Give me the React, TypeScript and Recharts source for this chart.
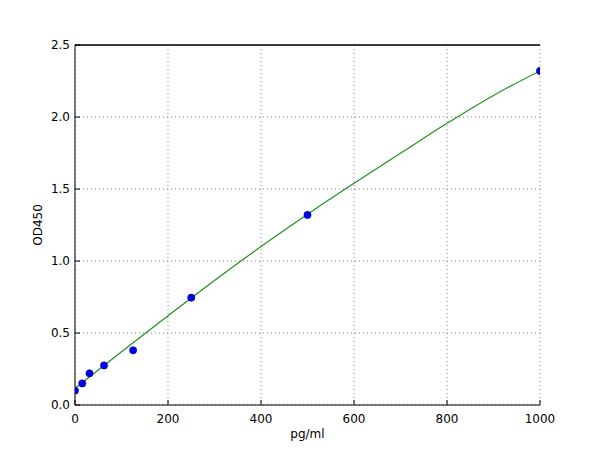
import { ComposedChart, Line, Scatter, XAxis, YAxis, CartesianGrid, ReferenceLine } from 'recharts';

// 標準点 (pg/ml, OD450)
const concentrations = [0, 15.6, 31.25, 62.5, 125, 250, 500, 1000];
const odValues = [0.1, 0.15, 0.22, 0.275, 0.38, 0.745, 1.32, 2.32];

// フィット曲線
const curveX = [0, 100, 200, 300, 400, 500, 600, 700, 800, 900, 1000];
const curveY = [0.116, 0.37, 0.62, 0.865, 1.1, 1.325, 1.54, 1.748, 1.956, 2.15, 2.32];

const xTicks = [0, 200, 400, 600, 800, 1000];
const yTicks = [0, 0.5, 1.0, 1.5, 2.0, 2.5];

const points = concentrations.map((x, i) => ({ x, y: odValues[i] }));
const curve = curveX.map((x, i) => ({ x, y: curveY[i] }));

const font = "'DejaVu Sans', sans-serif";
const tickStyle = { fontSize: 12, fill: '#000', fontFamily: font };

export default function App() {
  return (
    <div style={{ position: 'absolute', left: 0, top: 0, width: 600, height: 450, background: '#fff' }}>
      <ComposedChart width={600} height={450} margin={{ top: 44, right: 60, left: 30, bottom: 0 }}>
        <CartesianGrid xAxisId="b" yAxisId="l" stroke="#666" strokeDasharray="1 3" strokeWidth={0.8} />
        <XAxis
          xAxisId="b"
          dataKey="x"
          type="number"
          domain={[0, 1000]}
          ticks={xTicks}
          height={45}
          tick={tickStyle}
          tickSize={-5}
          tickMargin={14}
          axisLine={{ stroke: '#000' }}
          tickLine={{ stroke: '#000' }}
          allowDataOverflow
          label={{ value: 'pg/ml', position: 'insideBottom', offset: 12, fontSize: 12, fill: '#000', fontFamily: font }}
        />
        <XAxis
          xAxisId="t"
          orientation="top"
          dataKey="x"
          type="number"
          domain={[0, 1000]}
          ticks={xTicks}
          height={1}
          tick={false}
          tickSize={-5}
          axisLine={{ stroke: '#000' }}
          tickLine={{ stroke: '#000' }}
          allowDataOverflow
        />
        <YAxis
          yAxisId="l"
          dataKey="y"
          type="number"
          domain={[0, 2.5]}
          ticks={yTicks}
          width={45}
          tick={tickStyle}
          tickFormatter={(v: number) => v.toFixed(1)}
          tickSize={-5}
          tickMargin={10}
          axisLine={{ stroke: '#000' }}
          tickLine={{ stroke: '#000' }}
          allowDataOverflow
          label={{ value: 'OD450', angle: -90, position: 'insideLeft', offset: 8, fontSize: 12, fill: '#000', fontFamily: font, style: { textAnchor: 'middle' } }}
        />
        <YAxis
          yAxisId="r"
          orientation="right"
          dataKey="y"
          type="number"
          domain={[0, 2.5]}
          ticks={yTicks}
          width={0}
          tick={false}
          tickSize={-5}
          axisLine={{ stroke: '#000' }}
          tickLine={{ stroke: '#000' }}
          allowDataOverflow
        />
        <ReferenceLine xAxisId="b" yAxisId="l" y={2.5} stroke="#000" strokeWidth={1} />
        <Line
          xAxisId="b"
          yAxisId="l"
          data={curve}
          dataKey="y"
          type="monotone"
          stroke="#1f8f1f"
          strokeWidth={1.2}
          dot={false}
          activeDot={false}
          isAnimationActive={false}
        />
        <Scatter
          xAxisId="b"
          yAxisId="l"
          data={points}
          dataKey="y"
          fill="#0000ee"
          stroke="#00008b"
          strokeWidth={0.6}
          shape={(p: any) => <circle cx={p.cx} cy={p.cy} r={3.6} fill="#0000ee" stroke="#00008b" strokeWidth={0.6} />}
          isAnimationActive={false}
        />
      </ComposedChart>
    </div>
  );
}
